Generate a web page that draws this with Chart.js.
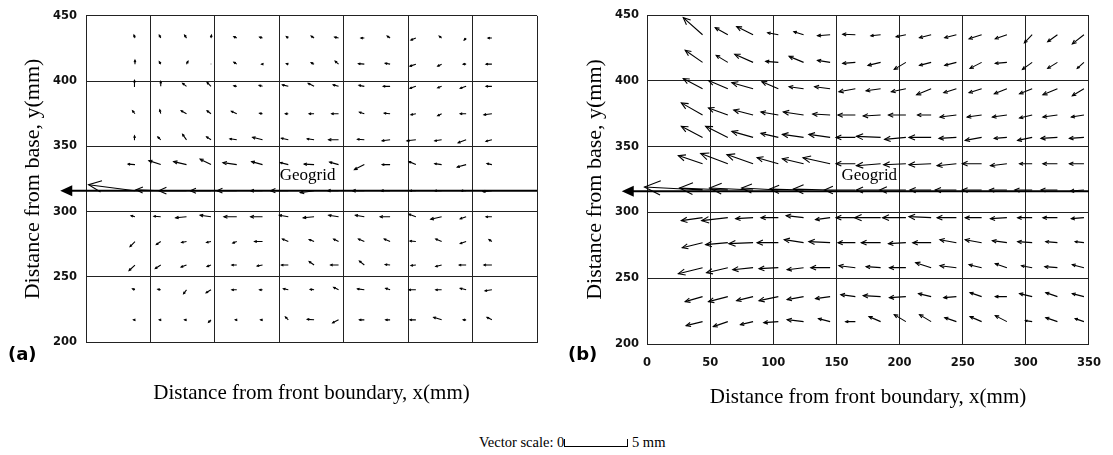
<!DOCTYPE html>
<html>
<head>
<meta charset="utf-8">
<script src="https://cdn.jsdelivr.net/npm/chart.js"></script>
<style>
  body { margin: 0; background: #fff; width: 1113px; height: 455px; position: relative; overflow: hidden; }
  canvas { position: absolute; top: 0; }
  #cvs_a { left: 0; }
  #cvs_b { left: 557px; }
  .tag { position: absolute; top: 343px; font: bold 18px "DejaVu Sans"; color: #000; }
  .vscale { position: absolute; left: 479px; top: 435px; font: 14.5px "Liberation Serif"; line-height: 15px; white-space: nowrap; color: #000; }
  .bar { display: inline-block; width: 62px; height: 7px; border: 1px solid #000; border-top: none; }
</style>
</head>
<body>
<canvas id="cvs_a" width="556" height="410"></canvas>
<canvas id="cvs_b" width="556" height="410"></canvas>
<div class="tag" style="left:8px">(a)</div>
<div class="tag" style="left:568px">(b)</div>
<div class="vscale">Vector scale: 0<span class="bar"></span> 5 mm</div>
<script>
var colsA = [38, 58, 78, 97, 117, 137, 157, 177, 196, 216, 236, 256, 276, 295, 315];
var rowsA = [433, 413, 396, 375, 355, 336, 316, 296, 277, 259, 240, 217];
var uA = [
  [-0.08, -0.12, -0.16, 0.04, -0.24, -0.24, -0.16, -0.24, -0.32, -0.28, -0.24, -0.4, -0.2, -0.16, -0.32],
  [0, -0.12, 0.12, 0, -0.24, -0.08, -0.16, -0.24, -0.28, -0.48, -0.4, -0.48, -0.32, -0.24, -0.48],
  [-0.04, 0, -0.32, -0.32, -0.24, -0.28, -0.48, -0.48, -0.44, -0.44, -0.56, -0.48, -0.32, -0.48, -0.48],
  [-0.2, -0.08, -0.44, -0.32, -0.44, -0.24, -0.24, -0.4, -0.56, -0.4, -0.48, -0.4, -0.32, -0.48, -0.65],
  [-0.04, -0.24, -0.32, -0.36, -0.56, -0.81, -0.56, -0.56, -0.81, -0.56, -0.65, -0.73, -0.56, -0.65, -0.48],
  [-0.56, -0.97, -1.05, -0.89, -1.13, -0.89, -0.65, -0.81, -0.73, -0.81, -0.65, -0.56, -0.56, -0.73, -0.4],
  [-3.79, -2.02, -2.26, -1.69, -1.61, -0.97, -1.45, -1.13, -0.89, -0.97, -0.73, -0.48, -0.56, -0.4, -0.73],
  [-0.32, -0.56, -0.89, -0.89, -1.05, -0.97, -0.73, -0.89, -0.81, -0.73, -0.81, -0.56, -0.89, -0.48, -0.48],
  [-0.4, -0.36, -0.4, -0.36, -0.32, -0.65, -0.48, -0.4, -0.4, -0.48, -0.48, -0.48, -0.48, -0.48, -0.24],
  [-0.48, -0.44, -0.44, -0.32, -0.4, -0.44, -0.56, -0.4, -0.65, -0.4, -0.4, -0.4, -0.48, -0.56, -0.65],
  [-0.2, -0.24, -0.24, -0.4, -0.4, -0.24, -0.4, -0.32, -0.4, -0.56, -0.36, -0.56, -0.48, -0.48, -0.56],
  [-0.12, -0.12, -0.16, -0.2, -0.12, -0.16, -0.24, -0.56, -0.48, -0.4, -0.36, -0.48, -0.65, -0.24, -0.4]
];
var vA = [
  [0.24, 0.24, 0.24, 0.24, 0.12, 0.08, 0.12, 0.16, 0.08, 0, 0.16, -0.16, 0.16, -0.16, 0],
  [0.32, 0.2, 0.24, 0.04, 0.16, 0, 0.04, 0.12, 0.24, 0.04, 0.08, -0.16, -0.16, 0, 0],
  [0.48, 0.4, 0.24, 0.32, 0.04, 0.08, 0.12, 0.24, 0.12, 0.08, 0, -0.16, -0.12, -0.16, 0],
  [0.24, 0.32, 0.24, 0.24, 0.2, 0.04, 0, 0, 0, 0.12, 0.04, -0.08, -0.16, 0, -0.08],
  [0.32, 0.24, 0.44, 0.24, 0.08, 0.2, 0.12, 0.08, 0, 0.04, -0.08, -0.08, -0.08, -0.24, -0.12],
  [0.04, 0.32, 0.24, 0.44, 0.16, 0.24, 0.16, 0.04, 0.2, -0.4, 0, 0.24, 0.08, -0.2, 0.08],
  [0.48, 0.08, 0, 0, 0, 0, 0, -0.16, 0, 0, 0, 0, 0, 0, -0.08],
  [0.08, 0.04, -0.08, 0.12, 0, 0, 0.12, -0.08, 0.12, 0.12, 0, 0.2, -0.2, -0.16, 0],
  [-0.4, -0.24, -0.08, -0.08, -0.12, 0, 0.2, 0.16, 0.2, 0.2, 0.2, 0.04, 0.2, -0.16, 0.16],
  [-0.44, -0.28, -0.16, -0.12, 0, -0.08, 0, 0.28, 0, 0.32, 0.04, -0.04, -0.12, 0, 0],
  [0.08, 0.04, -0.32, -0.24, 0, 0, 0.08, 0.04, 0.2, 0.08, 0.12, 0, 0, 0.12, -0.08],
  [0, 0, 0, -0.2, 0, 0, 0.24, 0.04, -0.24, 0, 0, 0, 0.2, 0, 0.2]
];

var colsB = [44, 64, 84, 104, 124, 145, 165, 185, 205, 225, 245, 265, 285, 305, 325, 346];
var rowsB = [435, 414, 394, 374, 357, 337, 317, 296, 277, 258, 236, 217];
var uB = [
  [-1.61, -1.05, -1.37, -0.89, -0.81, -1.05, -1.05, -0.81, -0.81, -0.97, -0.97, -1.05, -0.97, -0.65, -0.81, -0.97],
  [-1.45, -0.97, -1.53, -1.05, -1.21, -1.05, -1.05, -1.05, -0.97, -0.97, -0.97, -0.97, -0.97, -0.81, -0.81, -0.56],
  [-1.61, -1.61, -1.77, -1.37, -1.21, -1.29, -1.37, -1.21, -1.21, -1.21, -1.05, -1.05, -1.05, -1.05, -1.21, -0.97],
  [-1.77, -1.61, -1.61, -1.45, -1.69, -1.45, -1.45, -1.45, -1.45, -1.13, -1.37, -1.21, -1.21, -1.05, -1.21, -1.05],
  [-1.77, -1.85, -1.77, -1.45, -1.77, -1.77, -1.61, -2.02, -1.77, -1.85, -1.45, -1.37, -1.05, -1.21, -1.37, -1.21],
  [-2.02, -2.26, -2.18, -1.77, -1.77, -2.26, -1.61, -2.02, -1.85, -1.85, -1.61, -1.61, -1.37, -1.05, -1.21, -1.21],
  [-4.84, -4.03, -3.63, -3.06, -2.82, -3.06, -2.58, -2.02, -2.18, -1.77, -1.77, -1.61, -1.45, -1.45, -1.37, -1.13],
  [-1.77, -2.18, -1.45, -1.45, -1.45, -1.21, -1.61, -2.18, -1.94, -1.85, -1.61, -1.37, -1.37, -1.21, -1.21, -1.05],
  [-1.69, -1.85, -2.02, -1.77, -1.61, -1.77, -1.45, -1.61, -1.45, -1.53, -1.37, -1.37, -1.21, -1.21, -0.97, -0.73],
  [-2.02, -1.77, -1.69, -1.61, -1.37, -1.61, -1.37, -1.21, -1.37, -1.29, -1.37, -1.05, -0.97, -0.89, -1.05, -0.97],
  [-1.45, -1.61, -1.37, -1.61, -1.37, -1.21, -1.21, -1.45, -1.37, -1.05, -1.05, -0.97, -0.97, -1.05, -0.97, -0.97],
  [-1.37, -1.21, -1.05, -1.21, -1.37, -0.97, -0.81, -0.97, -0.97, -0.97, -0.97, -0.97, -0.97, -0.56, -0.97, -0.73]
];
var vB = [
  [1.37, 0.56, 0.65, 0.16, 0.24, -0.08, 0.04, -0.08, -0.16, -0.24, -0.24, -0.32, -0.32, -0.65, -0.56, -0.73],
  [0.97, 0.56, 0.65, 0.08, 0.48, 0.16, -0.08, -0.24, -0.56, -0.24, -0.24, -0.48, -0.08, -0.56, -0.48, -0.48],
  [0.81, 0.65, 0.48, 0.56, 0.16, 0.16, -0.24, -0.16, -0.24, -0.48, -0.32, -0.32, -0.4, -0.4, -0.48, -0.56],
  [0.97, 0.56, 0.4, 0.24, 0.24, 0.08, 0, -0.08, 0, 0, -0.16, -0.16, -0.16, -0.24, -0.16, -0.16],
  [0.89, 0.89, 0.48, 0.32, 0.24, 0.24, 0, 0.08, -0.16, 0, -0.08, -0.24, -0.08, -0.24, -0.08, -0.08],
  [0.65, 0.81, 0.73, 0.48, 0.4, 0.48, 0, -0.16, -0.08, -0.08, -0.16, 0, -0.16, 0, 0, 0],
  [0.24, 0.16, 0.16, 0.16, 0.08, 0.08, 0, 0, 0, 0, 0, 0, 0, 0, 0, -0.08],
  [-0.24, -0.24, -0.08, 0, 0.16, -0.16, 0, 0, 0, 0.08, 0, 0, -0.08, 0, 0, -0.08],
  [-0.4, -0.16, -0.08, 0, 0.24, 0.08, 0, 0, -0.08, 0, 0.24, 0.24, 0.16, 0.08, 0.08, 0.08],
  [-0.48, -0.4, -0.16, -0.08, -0.16, 0, 0.16, 0.08, 0, 0.4, 0.16, 0.24, 0.32, 0.16, 0.08, 0.24],
  [-0.4, -0.4, -0.32, -0.32, -0.24, -0.16, 0.16, 0.08, -0.08, 0.24, -0.08, 0.32, 0, 0.24, 0.32, 0.24],
  [-0.32, -0.4, -0.24, -0.08, 0.16, 0.24, 0, 0.4, 0.56, 0.56, 0.32, 0.4, 0.48, 0.08, 0.32, 0.24]
];

var yTicks = [200, 250, 300, 350, 400, 450];
var xTicks = [0, 50, 100, 150, 200, 250, 300, 350];
var geogridY = 316;
var geogridTipX = -20;  // geogrid arrow tip, left of the front boundary
var vecScale = 9.5;     // plot mm drawn per mm of displacement (5 mm bar)

Chart.defaults.font.family = '"DejaVu Sans", sans-serif';
Chart.defaults.color = '#000';

function arrowData(cols, rows, u, v) {
  var pts = [];
  for (var i = 0; i < rows.length; i++) {
    for (var j = 0; j < cols.length; j++) {
      pts.push({x: cols[j], y: rows[i]});
      pts.push({x: cols[j] + u[i][j] * vecScale, y: rows[i] + v[i][j] * vecScale});
      pts.push({x: cols[j], y: null});
    }
  }
  return pts;
}

var arrowHeads = {
  id: 'arrowHeads',
  afterDatasetsDraw: function(chart, args, opts) {
    var ctx = chart.ctx, sx = chart.scales.x, sy = chart.scales.y;
    var d = chart.data.datasets[0].data;
    ctx.save();
    ctx.strokeStyle = '#000';
    ctx.lineWidth = 1.1;
    for (var i = 0; i + 1 < d.length; i += 3) {
      var x0 = sx.getPixelForValue(d[i].x), y0 = sy.getPixelForValue(d[i].y);
      var x1 = sx.getPixelForValue(d[i + 1].x), y1 = sy.getPixelForValue(d[i + 1].y);
      var len = Math.hypot(x1 - x0, y1 - y0);
      if (len < 0.8) continue;
      var a = Math.atan2(y1 - y0, x1 - x0);
      var h = Math.max(2.2, len * 0.3);
      ctx.beginPath();
      ctx.moveTo(x1 - h * Math.cos(a - 0.42), y1 - h * Math.sin(a - 0.42));
      ctx.lineTo(x1, y1);
      ctx.lineTo(x1 - h * Math.cos(a + 0.42), y1 - h * Math.sin(a + 0.42));
      ctx.stroke();
    }
    // filled head of the geogrid line
    var tx = sx.getPixelForValue(geogridTipX), ty = sy.getPixelForValue(geogridY);
    ctx.fillStyle = '#000';
    ctx.beginPath();
    ctx.moveTo(tx, ty);
    ctx.lineTo(tx + 12, ty - 5.5);
    ctx.lineTo(tx + 12, ty + 5.5);
    ctx.closePath();
    ctx.fill();

    ctx.font = '17px "Liberation Serif"';
    ctx.textAlign = 'center';
    ctx.textBaseline = 'middle';
    ctx.fillText('Geogrid', sx.getPixelForValue(opts.labelX), sy.getPixelForValue(opts.labelY));
    ctx.restore();
  }
};

function makePanel(id, cols, rows, u, v, o) {
  return new Chart(document.getElementById(id), {
    type: 'line',
    data: {
      datasets: [{
        data: arrowData(cols, rows, u, v),
        borderColor: '#000',
        borderWidth: 1.1,
        pointRadius: 0,
        spanGaps: false,
        clip: false
      }, {
        data: [{x: geogridTipX + 5, y: geogridY}, {x: 350, y: geogridY}],
        borderColor: '#000',
        borderWidth: 2,
        pointRadius: 0,
        clip: false
      }]
    },
    options: {
      responsive: false,
      animation: false,
      layout: {padding: {top: o.top, right: o.right, left: 0, bottom: 0}},
      plugins: {
        legend: {display: false},
        tooltip: {enabled: false},
        arrowHeads: {labelX: o.labelX, labelY: o.labelY}
      },
      scales: {
        x: {
          type: 'linear', min: 0, max: 350,
          afterBuildTicks: function(s) { s.ticks = xTicks.map(function(t) { return {value: t}; }); },
          afterFit: function(s) { s.height = o.xh; },
          grid: {color: '#222', lineWidth: 1, drawTicks: false},
          border: {color: '#222', width: 1},
          ticks: {display: o.xLabels, padding: 12, font: {size: 11.5, weight: 'bold'}, color: '#111'},
          title: {display: true, text: 'Distance from front boundary, x(mm)',
                  font: {family: '"Liberation Serif", serif', size: 21, weight: 'normal'},
                  padding: {top: 0, bottom: o.xtPad}, color: '#000'}
        },
        y: {
          type: 'linear', min: 200, max: 450,
          afterBuildTicks: function(s) { s.ticks = yTicks.map(function(t) { return {value: t}; }); },
          afterFit: function(s) { s.width = o.yw; },
          grid: {color: '#222', lineWidth: 1, drawTicks: false},
          border: {color: '#222', width: 1},
          ticks: {padding: o.yPad, font: {size: 11.5, weight: 'bold'}, color: '#111'},
          title: {display: true, text: 'Distance from base, y(mm)',
                  font: {family: '"Liberation Serif", serif', size: 22, weight: 'normal'},
                  padding: {top: o.ytPad, bottom: 0}, color: '#000'}
        }
      }
    },
    plugins: [arrowHeads]
  });
}

window.onload = function() {
  makePanel('cvs_a', colsA, rowsA, uA, vA,
    {top: 10, right: 19, xh: 68, yw: 86, xLabels: false, xtPad: 4, yPad: 9, ytPad: 20, labelX: 172, labelY: 328});
  makePanel('cvs_b', colsB, rowsB, uB, vB,
    {top: 15, right: 16, xh: 66, yw: 90, xLabels: true, xtPad: 0, yPad: 8, ytPad: 25, labelX: 176, labelY: 328});
};
</script>
</body>
</html>
